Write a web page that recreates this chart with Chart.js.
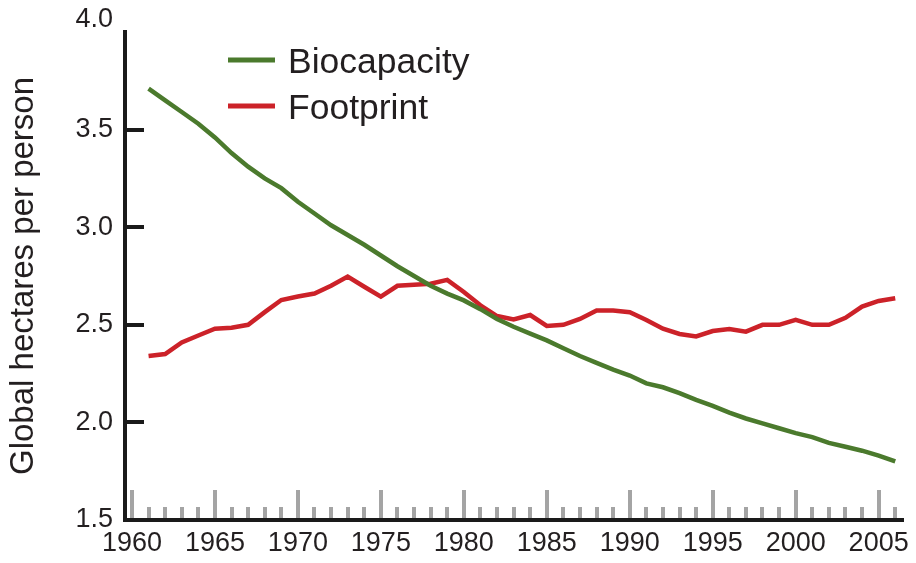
<!DOCTYPE html>
<html>
<head>
<meta charset="utf-8">
<title>Biocapacity and Footprint</title>
<script src="https://cdn.jsdelivr.net/npm/chart.js@4.4.1/dist/chart.umd.min.js"></script>
<style>
    html, body { margin: 0; padding: 0; background: #ffffff; }
    #chart-container { width: 916px; height: 563px; }
</style>
</head>
<body>
<div id="chart-container">
    <canvas id="footprint-chart" width="916" height="563"></canvas>
</div>
<script>
// Years covered by both series
const years = [
    1961, 1962, 1963, 1964, 1965, 1966, 1967, 1968, 1969, 1970,
    1971, 1972, 1973, 1974, 1975, 1976, 1977, 1978, 1979, 1980,
    1981, 1982, 1983, 1984, 1985, 1986, 1987, 1988, 1989, 1990,
    1991, 1992, 1993, 1994, 1995, 1996, 1997, 1998, 1999, 2000,
    2001, 2002, 2003, 2004, 2005, 2006
];

// Global hectares per person
const biocapacity = [
    3.71, 3.65, 3.59, 3.53, 3.46, 3.38, 3.31, 3.25, 3.20, 3.13,
    3.07, 3.01, 2.96, 2.91, 2.855, 2.80, 2.75, 2.70, 2.66, 2.625,
    2.58, 2.53, 2.49, 2.455, 2.42, 2.38, 2.34, 2.305, 2.27, 2.24,
    2.20, 2.18, 2.15, 2.115, 2.085, 2.05, 2.02, 1.995, 1.97, 1.945,
    1.925, 1.895, 1.875, 1.855, 1.83, 1.80
];
const footprint = [
    2.34, 2.35, 2.41, 2.445, 2.48, 2.485, 2.50, 2.565, 2.627, 2.645,
    2.66, 2.70, 2.747, 2.695, 2.644, 2.70, 2.705, 2.71, 2.73, 2.668,
    2.60, 2.545, 2.528, 2.55, 2.494, 2.50, 2.53, 2.573, 2.573, 2.564,
    2.525, 2.48, 2.453, 2.44, 2.468, 2.478, 2.465, 2.50, 2.50, 2.525,
    2.50, 2.50, 2.536, 2.593, 2.622, 2.636
];

// Axis labels
const xTickYears = [1960, 1965, 1970, 1975, 1980, 1985, 1990, 1995, 2000, 2005];
const yTickValues = [1.5, 2.0, 2.5, 3.0, 3.5, 4.0];

const FONT = "'Liberation Sans', Arial, Helvetica, sans-serif";
const GREEN = '#4b7a2d';
const RED = '#cc2229';

document.addEventListener("DOMContentLoaded", () => {
    drawChart();
});

function toPoints(values) {
    return values.map((v, i) => ({ x: years[i], y: v }));
}

// Gray year marks, inward value ticks, the offset top label and the legend
const decorations = {
    id: 'decorations',
    beforeDatasetsDraw(chart) {
        const { ctx, chartArea, scales } = chart;
        ctx.save();
        ctx.fillStyle = '#a4a4a4';
        for (let year = 1960; year <= 2006; year++) {
            const x = Math.round(scales.x.getPixelForValue(year));
            const h = year % 5 === 0 ? 30 : 13;
            ctx.fillRect(x - 2, chartArea.bottom - h, 4, h - 2);
        }
        ctx.fillStyle = '#1a1a1a';
        yTickValues.slice(1, -1).forEach(v => {
            const y = Math.round(scales.y.getPixelForValue(v));
            ctx.fillRect(chartArea.left, y - 2, 19, 4);
        });
        ctx.restore();
    },
    afterDraw(chart) {
        const { ctx, scales } = chart;
        ctx.save();

        // the 4.0 label sits a little above its tick
        const top = yTickValues[yTickValues.length - 1];
        ctx.font = `27px ${FONT}`;
        ctx.fillStyle = '#231f20';
        ctx.textAlign = 'right';
        ctx.textBaseline = 'middle';
        ctx.fillText(top.toFixed(1), 113, scales.y.getPixelForValue(top) - 12);

        // legend
        ctx.font = `35.5px ${FONT}`;
        ctx.textAlign = 'left';
        chart.data.datasets.forEach((ds, i) => {
            const y = 60 + i * 46;
            ctx.strokeStyle = ds.borderColor;
            ctx.lineWidth = 5;
            ctx.beginPath();
            ctx.moveTo(228, y);
            ctx.lineTo(275, y);
            ctx.stroke();
            ctx.fillStyle = '#231f20';
            ctx.fillText(ds.label, 288, y + 3);
        });
        ctx.restore();
    }
};

function drawChart() {
    const ctx = document.getElementById('footprint-chart').getContext('2d');

    new Chart(ctx, {
        type: 'line',
        data: {
            datasets: [
                {
                    label: 'Biocapacity',
                    data: toPoints(biocapacity),
                    borderColor: GREEN,
                    borderWidth: 4.5,
                    pointRadius: 0,
                    tension: 0
                },
                {
                    label: 'Footprint',
                    data: toPoints(footprint),
                    borderColor: RED,
                    borderWidth: 4.5,
                    pointRadius: 0,
                    tension: 0
                }
            ]
        },
        options: {
            responsive: false,
            animation: false,
            layout: {
                padding: { top: 32, right: 10, left: 0, bottom: 0 }
            },
            plugins: {
                legend: { display: false },
                tooltip: { enabled: false }
            },
            scales: {
                x: {
                    type: 'linear',
                    min: 1959.58,
                    max: 2006.5,
                    afterBuildTicks: scale => {
                        scale.ticks = xTickYears.map(v => ({ value: v }));
                    },
                    afterFit: scale => { scale.height = 43; },
                    grid: { display: false, drawTicks: false },
                    border: { display: true, color: '#1a1a1a', width: 4 },
                    ticks: {
                        autoSkip: false,
                        maxRotation: 0,
                        padding: 7,
                        color: '#231f20',
                        font: { family: FONT, size: 27 },
                        callback: v => String(v)
                    }
                },
                y: {
                    min: 1.5,
                    max: 4.0,
                    afterBuildTicks: scale => {
                        scale.ticks = yTickValues.map(v => ({ value: v }));
                    },
                    afterFit: scale => { scale.width = 125; },
                    grid: { display: false, drawTicks: false },
                    border: { display: true, color: '#1a1a1a', width: 4 },
                    ticks: {
                        padding: 12,
                        color: '#231f20',
                        font: { family: FONT, size: 27 },
                        callback: v => (v === 4.0 ? '' : v.toFixed(1))
                    },
                    title: {
                        display: true,
                        text: 'Global hectares per person',
                        color: '#231f20',
                        font: { family: FONT, size: 33 },
                        padding: { top: 4, bottom: 0 }
                    }
                }
            }
        },
        plugins: [decorations]
    });
}
</script>
</body>
</html>
